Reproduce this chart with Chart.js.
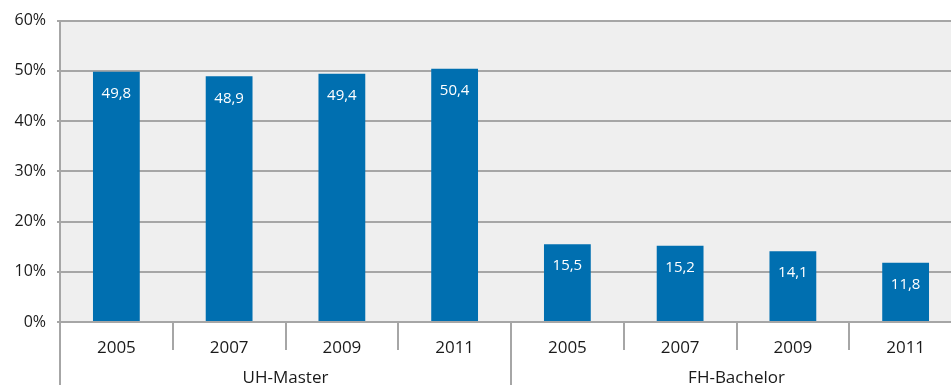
<!DOCTYPE html>
<html lang="de">
<head>
    <meta charset="UTF-8">
    <title>UH-Master / FH-Bachelor</title>
    <script src="https://cdn.jsdelivr.net/npm/chart.js"></script>
    <style>
        html, body { margin: 0; padding: 0; overflow: hidden; background: #fff; }
        #wrap { position: absolute; left: 0; top: 0; }
    </style>
</head>
<body>
    <div id="wrap">
        <canvas id="chart" width="962" height="385"></canvas>
    </div>

    <script>
        // Years per group and the two groups
        const years = ['2005', '2007', '2009', '2011'];
        const groups = ['UH-Master', 'FH-Bachelor'];

        // Shares in percent
        const uhMaster = [49.8, 48.9, 49.4, 50.4];
        const fhBachelor = [15.5, 15.2, 14.1, 11.8];

        const yTicks = [0, 10, 20, 30, 40, 50, 60];

        const labels = [...years, ...years];
        const values = [...uhMaster, ...fhBachelor];

        const FONT = '"Open Sans", "Noto Sans", sans-serif';
        const LINE = '#a6a6a6';

        // plot background
        const backgroundPlugin = {
            id: 'plotBackground',
            beforeDraw(chart) {
                const { ctx, chartArea: a } = chart;
                ctx.save();
                ctx.fillStyle = '#efefef';
                ctx.fillRect(a.left, a.top, a.right - a.left, a.bottom - a.top);
                ctx.restore();
            }
        };

        // separators below the axis, group labels and value labels in the bars
        const axisPlugin = {
            id: 'groupAxis',
            afterDraw(chart) {
                const { ctx, chartArea: a } = chart;
                const x = chart.scales.x;
                const step = x.getPixelForValue(1) - x.getPixelForValue(0);
                const h = chart.height;

                ctx.save();
                ctx.strokeStyle = LINE;
                ctx.lineWidth = 2;
                for (let i = 0; i <= labels.length; i++) {
                    const px = Math.round(x.getPixelForValue(i) - step / 2);
                    const full = i % years.length === 0;
                    ctx.beginPath();
                    ctx.moveTo(px, a.bottom);
                    ctx.lineTo(px, full ? h : a.bottom + 28);
                    ctx.stroke();
                }

                ctx.fillStyle = '#1a1a1a';
                ctx.font = '17px ' + FONT;
                ctx.textAlign = 'center';
                ctx.textBaseline = 'middle';
                groups.forEach((g, gi) => {
                    const first = x.getPixelForValue(gi * years.length) - step / 2;
                    const last = x.getPixelForValue((gi + 1) * years.length - 1) + step / 2;
                    ctx.fillText(g, (first + last) / 2, a.bottom + 56);
                });

                const meta = chart.getDatasetMeta(0);
                ctx.fillStyle = '#ffffff';
                ctx.font = '15px ' + FONT;
                meta.data.forEach((bar, i) => {
                    ctx.fillText(values[i].toFixed(1).replace('.', ','), bar.x, bar.y + 22);
                });
                ctx.restore();
            }
        };

        new Chart(document.getElementById('chart'), {
            type: 'bar',
            data: {
                labels: labels,
                datasets: [{
                    data: values,
                    backgroundColor: '#006fb0',
                    barPercentage: 0.415,
                    categoryPercentage: 1.0
                }]
            },
            options: {
                responsive: false,
                animation: false,
                layout: { padding: { top: 19, left: 0, right: 0, bottom: 0 } },
                plugins: {
                    legend: { display: false },
                    tooltip: { enabled: false }
                },
                scales: {
                    x: {
                        grid: { display: false },
                        border: { display: false },
                        ticks: {
                            color: '#1a1a1a',
                            font: { family: FONT, size: 17 },
                            padding: 8,
                            maxRotation: 0
                        },
                        afterFit(scale) { scale.height = 63; }
                    },
                    y: {
                        min: 0,
                        max: 60,
                        afterBuildTicks(scale) {
                            scale.ticks = yTicks.map(v => ({ value: v }));
                        },
                        grid: { color: LINE, lineWidth: 2, tickLength: 3 },
                        border: { color: LINE, width: 2 },
                        ticks: {
                            color: '#1a1a1a',
                            font: { family: FONT, size: 16 },
                            padding: 11,
                            callback: v => v + '%'
                        },
                        afterFit(scale) { scale.width = 60; }
                    }
                }
            },
            plugins: [backgroundPlugin, axisPlugin]
        });
    </script>
</body>
</html>
